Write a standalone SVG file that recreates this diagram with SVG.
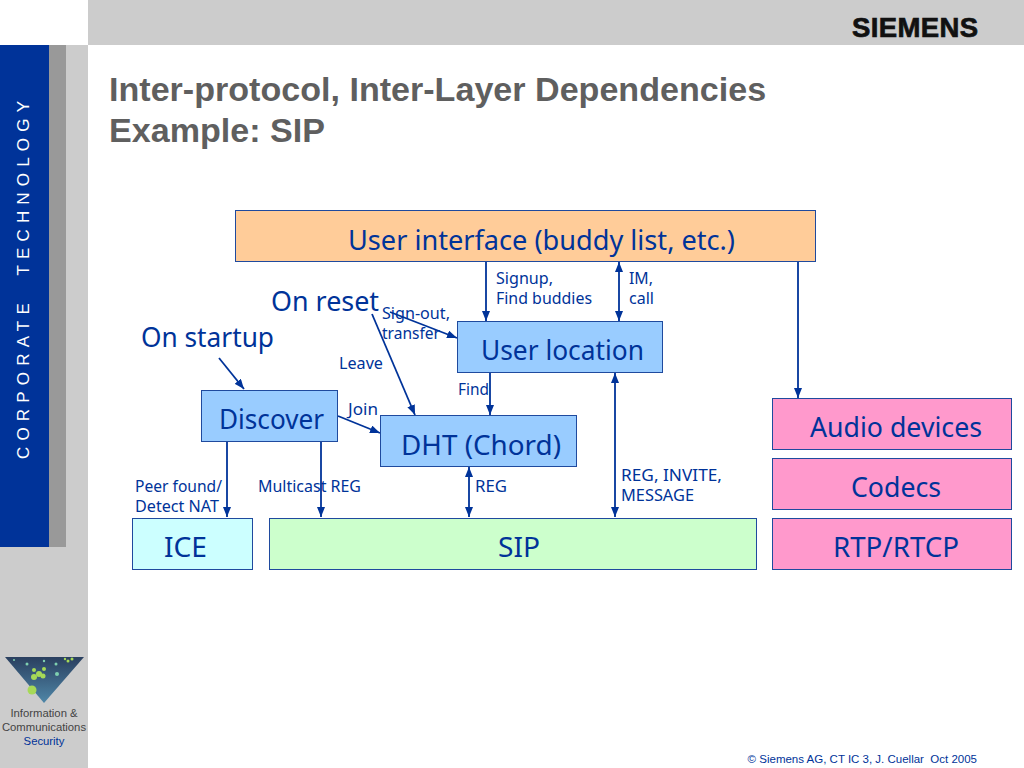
<svg xmlns="http://www.w3.org/2000/svg" width="1024" height="768" viewBox="0 0 1024 768">
<style>
.t{font-family:"Noto Sans","DejaVu Sans",sans-serif;fill:#003399}
.s{font-size:16px}.m{font-size:26.500px}
.b{stroke:#1f4a9e;stroke-width:1}
.c{stroke:#003399;stroke-width:1.800;fill:none}
.h{font-family:"Liberation Sans",Arial,sans-serif;font-weight:bold;font-size:34.100px;fill:#5f5f5f}
.f{font-family:"Liberation Sans",Arial,sans-serif;font-size:11.300px}
.g{font-family:"Liberation Sans",Arial,sans-serif;font-size:11.500px}
</style>
<defs>
<marker id="a" viewBox="0 0 10 8" refX="10" refY="4" markerWidth="10" markerHeight="8" orient="auto-start-reverse" markerUnits="userSpaceOnUse"><path d="M0 0L10 4L0 8z" fill="#003399"/></marker>
<linearGradient id="lg" x1="0" y1="0" x2="0" y2="1"><stop offset="0" stop-color="#2a3f5f"/><stop offset="1" stop-color="#4f87a8"/></linearGradient>
</defs>
<rect width="1024" height="768" fill="#fff"/>
<g id="chrome">
<rect x="88" y="0" width="936" height="45" fill="#cccccc"/>
<rect x="66" y="45" width="22" height="723" fill="#cccccc"/>
<rect x="0" y="547" width="88" height="221" fill="#cccccc"/>
<rect x="49" y="45" width="17" height="502" fill="#999999"/>
<rect x="0" y="45" width="49" height="502" fill="#003399"/>
<text transform="translate(29,459) rotate(-90)" font-family="Liberation Sans,Arial,sans-serif" font-size="17" fill="#fff" textLength="358" xml:space="preserve">CORPORATE  TECHNOLOGY</text>
<text x="852" y="37" font-family="Liberation Sans,Arial,sans-serif" font-weight="bold" font-size="27.500" fill="#111" stroke="#111" stroke-width=".7" textLength="126">SIEMENS</text>
<path d="M5 657H84L44 703z" fill="url(#lg)"/>
<g fill="#a6d957">
<circle cx="32" cy="690" r="4.500"/><circle cx="34" cy="677" r="3"/><circle cx="39" cy="674" r="3"/><circle cx="43" cy="676" r="2.500"/><circle cx="44" cy="669" r="2"/><circle cx="34" cy="670" r="2"/><circle cx="68" cy="661" r="1.500"/><circle cx="72" cy="659" r="1.500"/><circle cx="65" cy="659" r="1.200"/></g>
<g fill="#7fd0b0"><circle cx="57" cy="674" r="2"/><circle cx="27" cy="664" r="1.500"/><circle cx="44" cy="661" r="1.200"/><circle cx="56" cy="664" r="1.500"/><circle cx="14" cy="660" r="1"/></g>
<text x="44" y="717" text-anchor="middle" class="f" fill="#444">Information &amp;</text>
<text x="44" y="731" text-anchor="middle" class="f" fill="#444">Communications</text>
<text x="44" y="745" text-anchor="middle" class="f" fill="#003399">Security</text>
<text x="977" y="763" text-anchor="end" class="g" fill="#003399" xml:space="preserve">© Siemens AG, CT IC 3, J. Cuellar  Oct 2005</text>
</g>
<g id="title">
<text x="109" y="101" class="h">Inter-protocol, Inter-Layer Dependencies</text>
<text x="109" y="142" class="h">Example: SIP</text>
</g>
<g id="connectors">
<path class="c" d="M486 262V321" marker-end="url(#a)"/>
<path class="c" d="M619 262V321" marker-start="url(#a)" marker-end="url(#a)"/>
<path class="c" d="M798 262V398" marker-end="url(#a)"/>
<path class="c" d="M390 312L457 338" marker-end="url(#a)"/>
<path class="c" d="M372 314L415 415" marker-end="url(#a)"/>
<path class="c" d="M490 373V415" marker-end="url(#a)"/>
<path class="c" d="M615 373V517" marker-start="url(#a)" marker-end="url(#a)"/>
<path class="c" d="M338 416L380 433" marker-end="url(#a)"/>
<path class="c" d="M219 358L244 389" marker-end="url(#a)"/>
<path class="c" d="M227 442V517" marker-end="url(#a)"/>
<path class="c" d="M321 442V517" marker-end="url(#a)"/>
<path class="c" d="M469 467V517" marker-start="url(#a)" marker-end="url(#a)"/>
</g>
<g id="ui"><rect class="b" x="235.500" y="210.500" width="580" height="51" fill="#ffcc99"/><text class="t m" x="348" y="250" textLength="387" lengthAdjust="spacingAndGlyphs">User interface (buddy list, etc.)</text></g>
<g id="userloc"><rect class="b" x="457.500" y="321.500" width="205" height="51" fill="#99ccff"/><text class="t m" x="481" y="360" textLength="163" lengthAdjust="spacingAndGlyphs">User location</text></g>
<g id="discover"><rect class="b" x="201.500" y="390.500" width="136" height="51" fill="#99ccff"/><text class="t m" x="219" y="429" textLength="105" lengthAdjust="spacingAndGlyphs">Discover</text></g>
<g id="dht"><rect class="b" x="380.500" y="415.500" width="196" height="51" fill="#99ccff"/><text class="t m" x="401" y="455" textLength="160" lengthAdjust="spacingAndGlyphs">DHT (Chord)</text></g>
<g id="audio"><rect class="b" x="772.500" y="398.500" width="239" height="51" fill="#ff99cc"/><text class="t m" x="810" y="437" textLength="172" lengthAdjust="spacingAndGlyphs">Audio devices</text></g>
<g id="codecs"><rect class="b" x="772.500" y="458.500" width="239" height="51" fill="#ff99cc"/><text class="t m" x="851" y="497" textLength="90" lengthAdjust="spacingAndGlyphs">Codecs</text></g>
<g id="rtp"><rect class="b" x="772.500" y="518.500" width="239" height="51" fill="#ff99cc"/><text class="t m" x="833" y="557" textLength="126" lengthAdjust="spacingAndGlyphs">RTP/RTCP</text></g>
<g id="ice"><rect class="b" x="132.500" y="518.500" width="120" height="51" fill="#ccffff"/><text class="t m" x="164" y="557" textLength="43" lengthAdjust="spacingAndGlyphs">ICE</text></g>
<g id="sip"><rect class="b" x="269.500" y="518.500" width="487" height="51" fill="#ccffcc"/><text class="t m" x="498" y="557" textLength="42" lengthAdjust="spacingAndGlyphs">SIP</text></g>
<g id="labels">
<text class="t m" x="271" y="311" textLength="108" lengthAdjust="spacingAndGlyphs">On reset</text>
<text class="t m" x="141" y="347" textLength="133" lengthAdjust="spacingAndGlyphs">On startup</text>
<text class="t s" x="496" y="284" textLength="57" lengthAdjust="spacingAndGlyphs">Signup,</text><text class="t s" x="496" y="304" textLength="96" lengthAdjust="spacingAndGlyphs">Find buddies</text>
<text class="t s" x="629" y="284" textLength="24" lengthAdjust="spacingAndGlyphs">IM,</text><text class="t s" x="629" y="304" textLength="25" lengthAdjust="spacingAndGlyphs">call</text>
<text class="t s" x="382" y="319" textLength="68" lengthAdjust="spacingAndGlyphs">Sign-out,</text><text class="t s" x="382" y="339" textLength="58" lengthAdjust="spacingAndGlyphs">transfer</text>
<text class="t s" x="339" y="369" textLength="44" lengthAdjust="spacingAndGlyphs">Leave</text>
<text class="t s" x="458" y="395" textLength="31" lengthAdjust="spacingAndGlyphs">Find</text>
<text class="t s" x="348" y="415" textLength="30" lengthAdjust="spacingAndGlyphs">Join</text>
<text class="t s" x="135" y="492" textLength="87" lengthAdjust="spacingAndGlyphs">Peer found/</text><text class="t s" x="135" y="512" textLength="84" lengthAdjust="spacingAndGlyphs">Detect NAT</text>
<text class="t s" x="258" y="492" textLength="103" lengthAdjust="spacingAndGlyphs">Multicast REG</text>
<text class="t s" x="475" y="492" textLength="32" lengthAdjust="spacingAndGlyphs">REG</text>
<text class="t s" x="621" y="481" textLength="101" lengthAdjust="spacingAndGlyphs">REG, INVITE,</text><text class="t s" x="621" y="501" textLength="73" lengthAdjust="spacingAndGlyphs">MESSAGE</text>
</g>
</svg>
